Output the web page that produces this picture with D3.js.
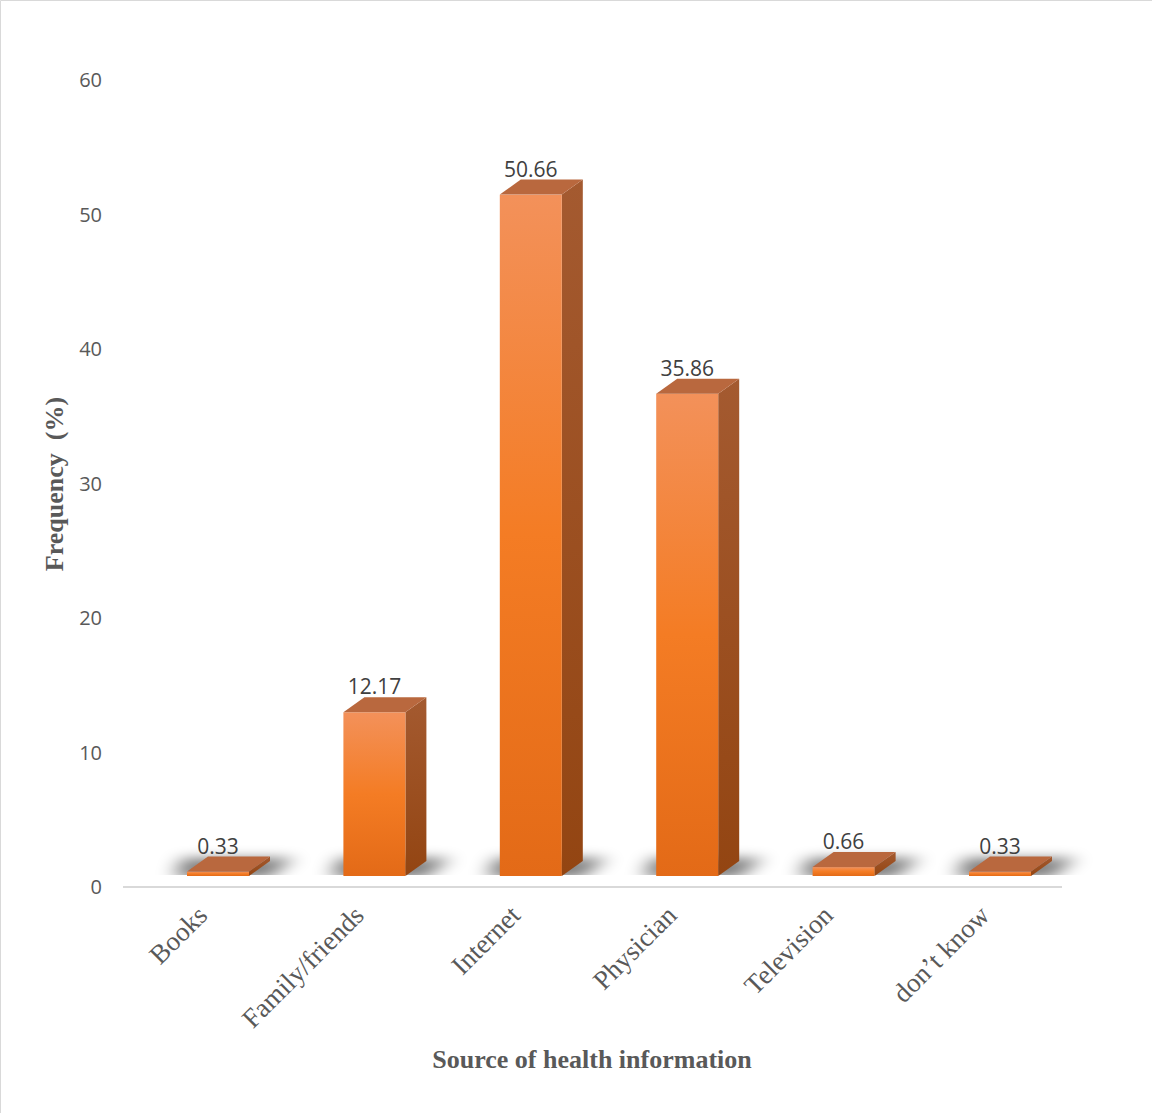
<!DOCTYPE html>
<html>
<head>
<meta charset="utf-8">
<script src="https://cdn.jsdelivr.net/npm/d3@7"></script>
<style>
  html, body { margin: 0; padding: 0; background: #fff; }
  svg { display: block; }
</style>
</head>
<body>
<script>
// Source of health information, share of respondents (%)
const categories = ["Books", "Family/friends", "Internet", "Physician", "Television", "don\u2019t know"];
const frequency = [0.33, 12.17, 50.66, 35.86, 0.66, 0.33];
const yTicks = [0, 10, 20, 30, 40, 50, 60];
const xTitle = "Source of health information";
const yTitle = "Frequency\u00a0\u00a0(%)";

const W = 1152, H = 1113;
const svg = d3.select("body").append("svg").attr("width", W).attr("height", H);

// outer frame (top and left edges)
svg.append("path").attr("d", `M0.5,${H} V0.5 H${W}`)
  .attr("fill", "none").attr("stroke", "#d9d9d9").attr("stroke-width", 1);

const y = d3.scaleLinear().domain([0, 60]).range([887, 80]);
const step = 156.4, p = 0.6036;
const x = d3.scaleBand().domain(categories)
  .range([139.8, 139.8 + step * categories.length])
  .paddingInner(p).paddingOuter(p / 2);

// 3D projection of the bars: front face sits a little in front of the axis floor
const frontDrop = 11;       // front base sits above the axis line
const depth = { dx: 21, dy: -15 };
const yFront = v => y(v) - frontDrop;
const base = yFront(0);

const defs = svg.append("defs");
const gFront = defs.append("linearGradient").attr("id", "gFront")
  .attr("x1", 0).attr("y1", 0).attr("x2", 0).attr("y2", 1);
gFront.append("stop").attr("offset", "0%").attr("stop-color", "#f3915a");
gFront.append("stop").attr("offset", "50%").attr("stop-color", "#f47c24");
gFront.append("stop").attr("offset", "100%").attr("stop-color", "#e36a17");

const gSide = defs.append("linearGradient").attr("id", "gSide")
  .attr("x1", 0).attr("y1", 0).attr("x2", 0).attr("y2", 1);
gSide.append("stop").attr("offset", "0%").attr("stop-color", "#a45a30");
gSide.append("stop").attr("offset", "100%").attr("stop-color", "#934512");

const blur = defs.append("filter").attr("id", "soft")
  .attr("x", "-50%").attr("y", "-150%").attr("width", "200%").attr("height", "400%");
blur.append("feGaussianBlur").attr("stdDeviation", "10 6");

defs.append("clipPath").attr("id", "floorClip")
  .append("rect").attr("x", 0).attr("y", 0).attr("width", W).attr("height", base - 1);

// floor shadows
const shadows = svg.append("g").attr("clip-path", "url(#floorClip)");
shadows.selectAll("path").data(categories).join("path")
  .attr("d", c => {
    const x0 = x(c), x1 = x(c) + x.bandwidth();
    return `M${x0 - 12},${base + 2} L${x1 + 20},${base + 2} L${x1 + depth.dx + 24},${base - 18} L${x0 + depth.dx - 26},${base - 18} Z`;
  })
  .attr("fill", "#000").attr("opacity", 0.5).attr("filter", "url(#soft)");

// axis floor line
svg.append("line").attr("x1", 123).attr("x2", 1062).attr("y1", y(0)).attr("y2", y(0))
  .attr("stroke", "#d9d9d9").attr("stroke-width", 2);

// bars
const bars = svg.append("g").selectAll("g").data(categories.map((c, i) => ({ c, v: frequency[i] })))
  .join("g");

bars.append("path")   // side face
  .attr("d", d => {
    const x1 = x(d.c) + x.bandwidth(), yt = yFront(d.v);
    return `M${x1},${yt} L${x1 + depth.dx},${yt + depth.dy} L${x1 + depth.dx},${base + depth.dy} L${x1},${base} Z`;
  })
  .attr("fill", "url(#gSide)");

bars.append("rect")   // front face
  .attr("x", d => x(d.c)).attr("width", x.bandwidth())
  .attr("y", d => yFront(d.v)).attr("height", d => base - yFront(d.v))
  .attr("fill", "url(#gFront)");

bars.append("path")   // top face
  .attr("d", d => {
    const x0 = x(d.c), x1 = x0 + x.bandwidth(), yt = yFront(d.v);
    return `M${x0},${yt} L${x1},${yt} L${x1 + depth.dx},${yt + depth.dy} L${x0 + depth.dx},${yt + depth.dy} Z`;
  })
  .attr("fill", "#b9683e");

// value labels
bars.append("text")
  .attr("x", d => x(d.c) + x.bandwidth() / 2)
  .attr("y", d => yFront(d.v) + depth.dy - 3)
  .attr("text-anchor", "middle")
  .attr("font-family", "'Open Sans', sans-serif").attr("font-size", 21)
  .attr("fill", "#404040")
  .text(d => d.v.toFixed(2));

// y tick labels
svg.append("g").selectAll("text").data(yTicks).join("text")
  .attr("x", 102).attr("y", d => y(d)).attr("dy", "0.35em")
  .attr("text-anchor", "end")
  .attr("font-family", "'Open Sans', sans-serif").attr("font-size", 20)
  .attr("fill", "#595959")
  .text(d => d);

// category labels, rotated
svg.append("g").selectAll("text").data(categories).join("text")
  .attr("transform", c => `translate(${x(c) + x.bandwidth() / 2 - 9},${y(0) + 30}) rotate(-45)`)
  .attr("text-anchor", "end")
  .attr("font-family", "'Liberation Serif', 'Times New Roman', serif").attr("font-size", 27)
  .attr("fill", "#595959")
  .text(c => c);

// axis titles
svg.append("text")
  .attr("x", 592).attr("y", 1068).attr("text-anchor", "middle")
  .attr("font-family", "'Liberation Serif', 'Times New Roman', serif")
  .attr("font-size", 26).attr("font-weight", "bold").attr("fill", "#595959")
  .text(xTitle);

svg.append("text")
  .attr("transform", "translate(63,484) rotate(-90)").attr("text-anchor", "middle")
  .attr("font-family", "'Liberation Serif', 'Times New Roman', serif")
  .attr("font-size", 26).attr("font-weight", "bold").attr("fill", "#595959")
  .text(yTitle);
</script>
</body>
</html>
